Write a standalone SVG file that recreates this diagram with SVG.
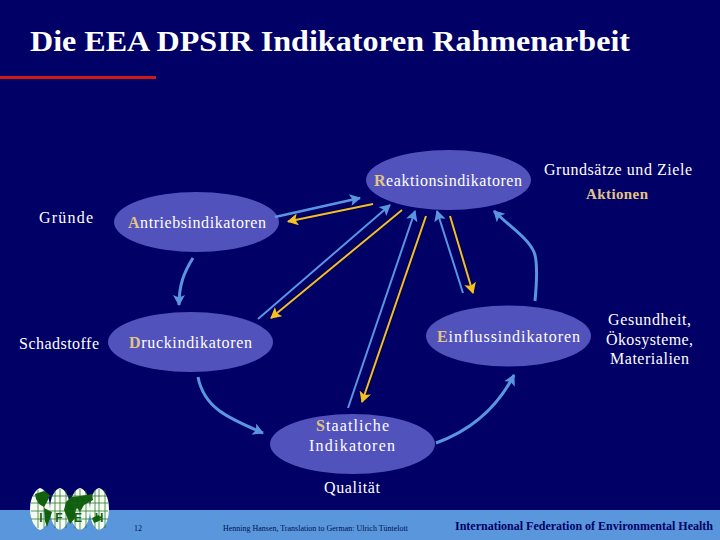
<svg xmlns="http://www.w3.org/2000/svg" width="720" height="540" viewBox="0 0 720 540">
<style>
text{font-family:"Liberation Serif","Times New Roman",serif;fill:#fff;font-size:16px}
.b{fill:#5252bd}
.c{fill:#e0c484;font-weight:bold}
.bl{stroke:#5a96e0;fill:none}
.or{stroke:#f0bc3c;fill:none;stroke-width:2}
.sh{stroke:#000033;fill:none;stroke-width:3.500}
.m{text-anchor:middle}
.lg{font-size:12px;fill:#0f5f0f;font-weight:bold;font-family:"Liberation Sans",sans-serif;text-anchor:middle}
</style>
<defs>
<marker id="ab" markerUnits="userSpaceOnUse" markerWidth="14" markerHeight="14" refX="10" refY="6" orient="auto"><path d="M0 0L11 6L0 12L2.500 6Z" fill="#5a96e0"/></marker>
<marker id="ao" markerUnits="userSpaceOnUse" markerWidth="14" markerHeight="14" refX="10" refY="6" orient="auto"><path d="M0 0L11 6L0 12L2.500 6Z" fill="#f5c21c"/></marker>
</defs>
<rect width="720" height="540" fill="#000066"/>
<rect y="510" width="720" height="30" fill="#5a96dc"/>
<text x="30" y="51" textLength="600" lengthAdjust="spacingAndGlyphs" style="font-size:29px;font-weight:bold">Die EEA DPSIR Indikatoren Rahmenarbeit</text>
<rect y="76" width="156" height="3" fill="#d01818"/>
<g id="n-reaktion"><ellipse class="b" cx="448.500" cy="180" rx="82.500" ry="30"/><text x="374" y="186" textLength="148"><tspan class="c">R</tspan>eaktionsindikatoren</text></g>
<g id="n-antrieb"><ellipse class="b" cx="196.500" cy="222" rx="82.500" ry="30"/><text x="128" y="228" textLength="138"><tspan class="c">A</tspan>ntriebsindikatoren</text></g>
<g id="n-druck"><ellipse class="b" cx="190.500" cy="342" rx="82.500" ry="30"/><text x="129" y="348" textLength="123"><tspan class="c">D</tspan>ruckindikatoren</text></g>
<g id="n-einfluss"><ellipse class="b" cx="508.500" cy="336" rx="82.500" ry="30.500"/><text x="437" y="342" textLength="143"><tspan class="c">E</tspan>influssindikatoren</text></g>
<g id="n-staat"><ellipse class="b" cx="352.500" cy="444" rx="82.500" ry="30"/><text x="316" y="431" textLength="73"><tspan class="c">S</tspan>taatliche</text><text x="309" y="451" textLength="86">Indikatoren</text></g>
<g id="connectors">
<path class="bl" stroke-width="2.500" marker-end="url(#ab)" d="M275 217L360 198"/>
<path class="sh" d="M373 204L295 220"/><path class="or" marker-end="url(#ao)" d="M373 204L288 221.500"/>
<path class="bl" stroke-width="2" marker-end="url(#ab)" d="M258 319L390 205"/>
<path class="sh" d="M402 210L278 312"/><path class="or" marker-end="url(#ao)" d="M402 210L271 318"/>
<path class="bl" stroke-width="2" marker-end="url(#ab)" d="M348 408L415 211"/>
<path class="sh" d="M426 216L365 395"/><path class="or" marker-end="url(#ao)" d="M426 216L362 402"/>
<path class="bl" stroke-width="2" marker-end="url(#ab)" d="M463 293L437 211"/>
<path class="sh" d="M450 216L471 286"/><path class="or" marker-end="url(#ao)" d="M450 216L473 293"/>
<path class="bl" stroke-width="3" marker-end="url(#ab)" d="M535 301C537 280 538 262 534 252C528 238 510 227 494 211"/>
<path class="bl" stroke-width="3" marker-end="url(#ab)" d="M193 258C184 272 179 285 179 305"/>
<path class="bl" stroke-width="3" marker-end="url(#ab)" d="M198 377C204 408 228 418 263 433"/>
<path class="bl" stroke-width="3" marker-end="url(#ab)" d="M436 443C472 430 497 408 514 375"/>
</g>
<text x="39" y="223" textLength="54">Gründe</text>
<text x="19" y="349" textLength="80">Schadstoffe</text>
<text x="544" y="175" textLength="148">Grundsätze und Ziele</text>
<text x="586" y="199" style="fill:#e0c484;font-weight:bold;font-size:15px" textLength="62">Aktionen</text>
<text x="608" y="325" textLength="83">Gesundheit,</text>
<text x="606" y="345" textLength="87">Ökosysteme,</text>
<text x="610" y="364" textLength="79">Materialien</text>
<text x="324" y="493" textLength="56">Qualität</text>
<g id="logo">
<g fill="#f4fbf0">
<path d="M30 509C30 497 36 489 40 488C45 489 50 497 50 509C50 521 45 529 40 530C36 529 30 521 30 509Z"/>
<path d="M50 509C50 497 55 489 60 488C65 489 70 497 70 509C70 521 65 529 60 530C55 529 50 521 50 509Z"/>
<path d="M70 509C70 497 75 489 80 488C85 489 90 497 90 509C90 521 85 529 80 530C75 529 70 521 70 509Z"/>
<path d="M90 509C90 497 94 489 99 488C104 489 109 497 109 509C109 521 104 529 99 530C94 529 90 521 90 509Z"/>
</g>
<g fill="#0f5f0f"><path d="M35 494L44 491L50 495L47 502L44 507L39 504L36 499Z"/><path d="M44 508L52 512L49 521L47 527L45 521Z"/><path d="M66 502L71 497L80 496L92 494L93 500L84 505L80 512L77 508L75 512L75 518L70 524L67 517L64 510Z"/><path d="M92 518L99 515L101 520L94 523Z"/></g>
<g stroke="#1a6a1a" stroke-width="0.700" fill="none"><path d="M33 496H107M31 503H108M31 511H108M31 519H108M38 490V528M44 490V528M55 490V528M60 489V530M66 490V528M75 490V528M80 489V530M86 490V528M95 490V528M99 489V530M105 490V528"/></g>
<text x="41" y="522" class="lg">I</text><text x="59" y="522" class="lg">F</text><text x="78" y="522" class="lg">E</text><text x="99" y="522" class="lg">H</text>
</g>
<text x="134" y="531" style="font-size:8px;fill:#001050">12</text>
<text x="223" y="531" textLength="185" lengthAdjust="spacingAndGlyphs" style="font-size:9px;fill:#001050">Henning Hansen, Translation to German: Ulrich Tüntelott</text>
<text x="455" y="530" textLength="258" lengthAdjust="spacingAndGlyphs" style="font-size:12px;font-weight:bold;fill:#000066">International Federation of Environmental Health</text>
</svg>
